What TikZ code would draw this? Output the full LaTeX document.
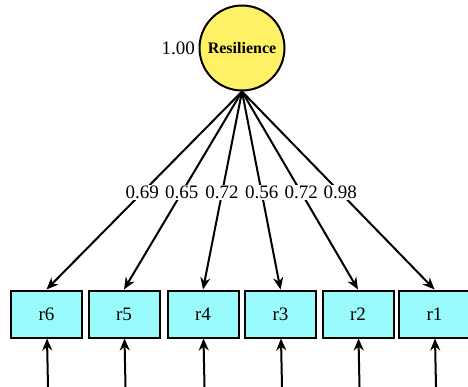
\documentclass[tikz,border=0pt]{standalone}
\usepackage{fontspec}
\setmainfont{Liberation Serif}
\usepackage{tikz}
\usetikzlibrary{positioning, arrows.meta}
\usepackage{xcolor}
\definecolor{latentyellow}{RGB}{255, 241, 102}
\definecolor{itemcyan}{RGB}{152, 250, 250}

\begin{document}
\begin{tikzpicture}[x=1pt, y=-1pt,
    every node/.style={font=\fontsize{19}{22}\selectfont},
    latent/.style={circle, draw=black, line width=2pt, fill=latentyellow, minimum size=85pt, inner sep=0pt},
    item/.style={rectangle, draw=black, line width=2pt, fill=itemcyan, minimum width=71pt, minimum height=47pt},
    path/.style={-{Stealth[length=12pt, width=10pt]}, line width=2pt}]
    \useasboundingbox (0,0) rectangle (468,387);

    % Latent factor
    \node[latent] (res) at (242,48) {\fontsize{16}{18}\selectfont\textbf{Resilience}};
    \node[left=0pt of res] (resvar) {1.00};

    % Indicators, loadings and error arrows
    \foreach \n/\x/\l in {r6/46.5/0.69, r5/124/0.65, r4/203/0.72, r3/280.5/0.56, r2/358/0.72, r1/434.5/0.98} {
        \node[item] (\n) at (\x,314) {\n};
        \draw[path] (res.south) -- (\n.north) node[pos=0.51, fill=white, inner sep=1pt] {\l};
        \coordinate (\n-err) at (\x+1.5,387);
        \draw[path] (\n-err) -- (\n);
    }
\end{tikzpicture}
\end{document}
